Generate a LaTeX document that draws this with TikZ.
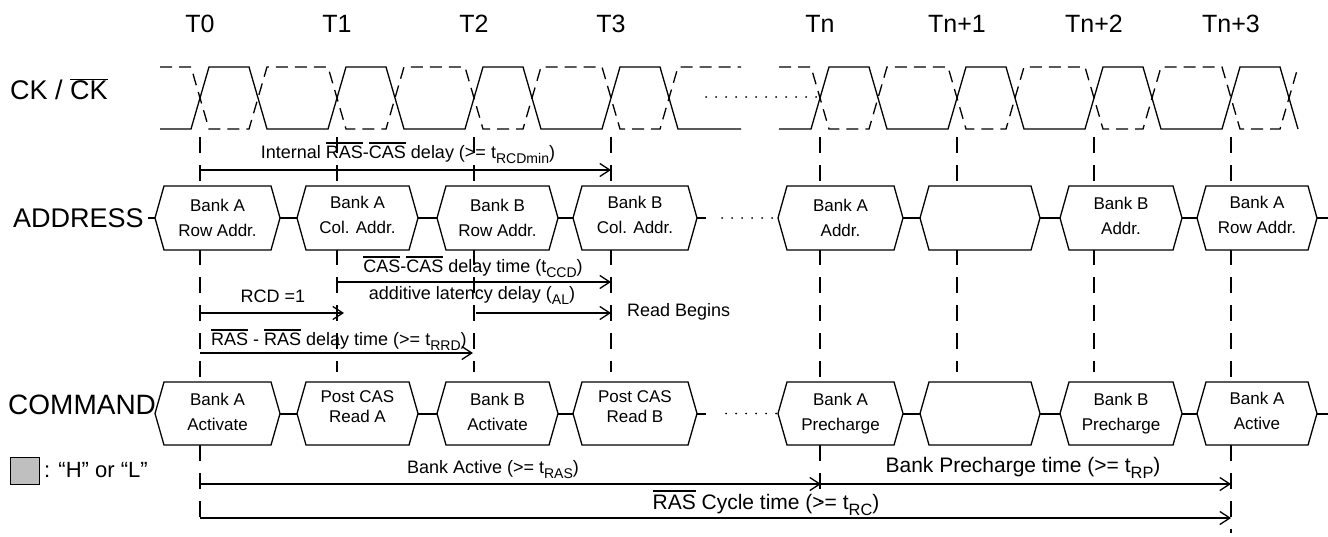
\documentclass[tikz,border=0pt]{standalone}
\usepackage{fontspec}
\usepackage{graphicx}
\setmainfont{Liberation Sans}
\usetikzlibrary{arrows.meta}
\newsavebox\ovbox
\newcommand\ovl[1]{\sbox\ovbox{#1}\rlap{\rule[\dimexpr\ht\ovbox+0.13em\relax]{\wd\ovbox}{0.08em}}\usebox\ovbox}
\newcommand\sbs[1]{\raisebox{-0.28em}{\scalebox{0.78}{#1}}}
\newcommand\fsbig{\fontsize{27}{30}\selectfont}
\newcommand\fsT{\fontsize{25}{30}\selectfont}
\newcommand\fsmid{\fontsize{21}{25}\selectfont}
\newcommand\fssm{\fontsize{18}{25}\selectfont}
\newcommand\fsbox{\fontsize{17}{25}\selectfont}
\newcommand\fspost{\fontsize{17}{20}\selectfont}
\newcommand\hexb[7]{%
  \coordinate (#1-w) at (#2,{(#4+#5)/2});
  \coordinate (#1-e) at (#3,{(#4+#5)/2});
  \path[boxline] (#1-w) -- ({#2+9},#4) -- ({#3-9},#4) -- (#1-e) -- ({#3-9},#5) -- ({#2+9},#5) -- cycle;
  \node[boxtxt,#6] (#1) at ({(#2+#3)/2},{(#4+#5)/2}) {#7};
}
\begin{document}
\begin{tikzpicture}[x=1pt,y=-1pt,
  ck/.style={line width=1.3pt},
  ckb/.style={line width=1.3pt,dash pattern=on 12pt off 7pt},
  vline/.style={line width=1.8pt,dash pattern=on 16pt off 12pt},
  boxline/.style={draw,line width=1.3pt,fill=white,line join=miter},
  boxtxt/.style={font=\fsbox,align=center,inner sep=0pt},
  tie/.style={line width=2pt},
  dots/.style={line width=2pt,line cap=round,dash pattern=on 0pt off 10pt},
  arr/.style={line width=2pt,-{Straight Barb[length=10pt,width=13pt,line width=1.3pt]}},
  lbl/.style={font=\fssm,inner sep=0pt},
  big/.style={font=\fsbig,inner sep=0pt},
  tlbl/.style={font=\fsT,inner sep=0pt}]
\useasboundingbox (0,0) rectangle (1328,536);

% time markers
\foreach \n/\x/\yb/\t in {t0/200/528/T0, t1/337/372/T1, t2/474/372/T2, t3/611/372/T3,
  tn/820/502/Tn, tn1/957/372/Tn+1, tn2/1094/372/Tn+2, tn3/1231/533/Tn+3}{
  \coordinate (\n-top) at (\x,137);
  \coordinate (\n-bot) at (\x,\yb);
  \draw[vline] (\n-top) -- (\n-bot);
  \node[tlbl] (\n-lab) at (\x,24) {\t};
}

% clock
\draw[ck] (160,129) -- (191,129) -- (209,67) -- (249,67) -- (267,129) -- (328,129) -- (346,67) -- (386,67) -- (404,129) -- (465,129) -- (483,67) -- (523,67) -- (541,129) -- (602,129) -- (620,67) -- (660,67) -- (678,129) -- (741,129);
\draw[ckb] (160,67) -- (191,67) -- (209,129) -- (249,129) -- (267,67) -- (328,67) -- (346,129) -- (386,129) -- (404,67) -- (465,67) -- (483,129) -- (523,129) -- (541,67) -- (602,67) -- (620,129) -- (660,129) -- (678,67) -- (741,67);
\draw[ck] (779,129) -- (811,129) -- (829,67) -- (869,67) -- (887,129) -- (948,129) -- (966,67) -- (1006,67) -- (1024,129) -- (1085,129) -- (1103,67) -- (1143,67) -- (1161,129) -- (1222,129) -- (1240,67) -- (1280,67) -- (1298,129);
\draw[ckb] (779,67) -- (811,67) -- (829,129) -- (869,129) -- (887,67) -- (948,67) -- (966,129) -- (1006,129) -- (1024,67) -- (1085,67) -- (1103,129) -- (1143,129) -- (1161,67) -- (1222,67) -- (1240,129) -- (1280,129) -- (1298,67);
\coordinate (ckd1) at (706,97);
\coordinate (ckd2) at (818,97);
\draw[dots] (ckd1) -- (ckd2);

% row labels
\node[big,anchor=west] (cklab) at (10,89) {CK / $\overline{\hbox{CK}}$};
\node[big,anchor=west] (addrlab) at (13,218) {ADDRESS};
\node[big,anchor=west,font=\fontsize{28}{30}\selectfont] (cmdlab) at (8,405) {COMMAND};

% address row
\hexb{a1}{155}{280}{186}{250}{}{Bank A\\Row Addr.}
\hexb{a2}{297}{418}{186}{250}{yshift=3pt}{Bank A\\Col. Addr.}
\hexb{a3}{437}{558}{186}{250}{}{Bank B\\Row Addr.}
\hexb{a4}{573}{697}{186}{250}{yshift=3pt}{Bank B\\Col. Addr.}
\hexb{a5}{778}{903}{186}{250}{}{Bank A\\Addr.}
\hexb{a6}{920}{1040}{186}{250}{}{}
\hexb{a7}{1060}{1182}{186}{250}{yshift=2pt}{Bank B\\Addr.}
\hexb{a8}{1197}{1317}{186}{250}{yshift=3pt}{Bank A\\Row Addr.}
\coordinate (a0) at (148,218);
\coordinate (a4x) at (706,218);
\coordinate (a4d) at (722,218);
\coordinate (a9) at (1328,218);
\draw[tie] (a0) -- (a1-w);
\draw[tie] (a1-e) -- (a2-w);
\draw[tie] (a2-e) -- (a3-w);
\draw[tie] (a3-e) -- (a4-w);
\draw[tie] (a4-e) -- (a4x);
\draw[dots] (a4d) -- (a5-w);
\draw[tie] (a5-e) -- (a6-w);
\draw[tie] (a6-e) -- (a7-w);
\draw[tie] (a7-e) -- (a8-w);
\draw[tie] (a8-e) -- (a9);

% command row
\hexb{c1}{155}{280}{382}{445}{yshift=2pt}{Bank A\\Activate}
\hexb{c2}{297}{418}{382}{445}{font=\fspost,yshift=7pt}{Post CAS\\Read A}
\hexb{c3}{437}{558}{382}{445}{yshift=2pt}{Bank B\\Activate}
\hexb{c4}{573}{697}{382}{445}{font=\fspost,yshift=7pt}{Post CAS\\Read B}
\hexb{c5}{778}{903}{382}{445}{}{Bank A\\Precharge}
\hexb{c6}{920}{1040}{382}{445}{}{}
\hexb{c7}{1060}{1182}{382}{445}{}{Bank B\\Precharge}
\hexb{c8}{1197}{1317}{382}{445}{yshift=3pt}{Bank A\\Active}
\coordinate (c4x) at (706,413.5);
\coordinate (c4d) at (726,413.5);
\coordinate (c9) at (1328,413.5);
\draw[tie] (c1-e) -- (c2-w);
\draw[tie] (c2-e) -- (c3-w);
\draw[tie] (c3-e) -- (c4-w);
\draw[tie] (c4-e) -- (c4x);
\draw[dots] (c4d) -- (c5-w);
\draw[tie] (c5-e) -- (c6-w);
\draw[tie] (c6-e) -- (c7-w);
\draw[tie] (c7-e) -- (c8-w);
\draw[tie] (c8-e) -- (c9);

% timing arrows
\coordinate (ia) at (200,170); \coordinate (ib) at (611,170);
\draw[arr] (ia) -- (ib);
\node[lbl] (ilab) at (408,153) {Internal \ovl{RAS}-\ovl{CAS} delay (>= t\sbs{RCDmin})};

\coordinate (cca) at (337,282); \coordinate (ccb) at (611,282);
\draw[arr] (cca) -- (ccb);
\node[lbl] (cclab) at (473,267) {\ovl{CAS}-\ovl{CAS} delay time (t\sbs{CCD})};
\node[lbl] (allab) at (472,295) {additive latency delay (\sbs{AL})};

\coordinate (ra) at (200,313); \coordinate (rb) at (344,313);
\draw[arr] (ra) -- (rb);
\node[lbl] (rcdlab) at (273,296) {RCD =1};

\coordinate (ala) at (476,313); \coordinate (alb) at (611,313);
\draw[arr] (ala) -- (alb);
\node[lbl,anchor=west] (rblab) at (627,312) {Read Begins};

\coordinate (rra) at (200,353); \coordinate (rrb) at (473,353);
\draw[arr] (rra) -- (rrb);
\node[lbl,anchor=west] (rrlab) at (211,340) {\ovl{RAS} - \ovl{RAS} delay time (>= t\sbs{RRD})};

\coordinate (ba) at (200,484); \coordinate (bb) at (821,484); \coordinate (bc) at (1231,484);
\draw[arr] (ba) -- (bb);
\draw[arr] (bb) -- (bc);
\node[lbl] (balab) at (493,470) {Bank Active (>= t\sbs{RAS})};
\node[font=\fsmid,inner sep=0pt] (bplab) at (1023,468) {Bank Precharge time (>= t\sbs{RP})};

\coordinate (rca) at (200,518); \coordinate (rcb) at (1231,518);
\draw[arr] (rca) -- (rcb);
\node[font=\fsmid,inner sep=0pt] (rclab) at (766,503) {\ovl{RAS} Cycle time (>= t\sbs{RC})};

% legend
\node[draw,line width=1.8pt,fill=gray!50,minimum width=29pt,minimum height=27pt,inner sep=0pt] (leg) at (25,471) {};
\node[font=\fontsize{22}{25}\selectfont,inner sep=0pt,anchor=west] (legtxt) at (44,470) {: “H” or “L”};
\end{tikzpicture}
\end{document}
